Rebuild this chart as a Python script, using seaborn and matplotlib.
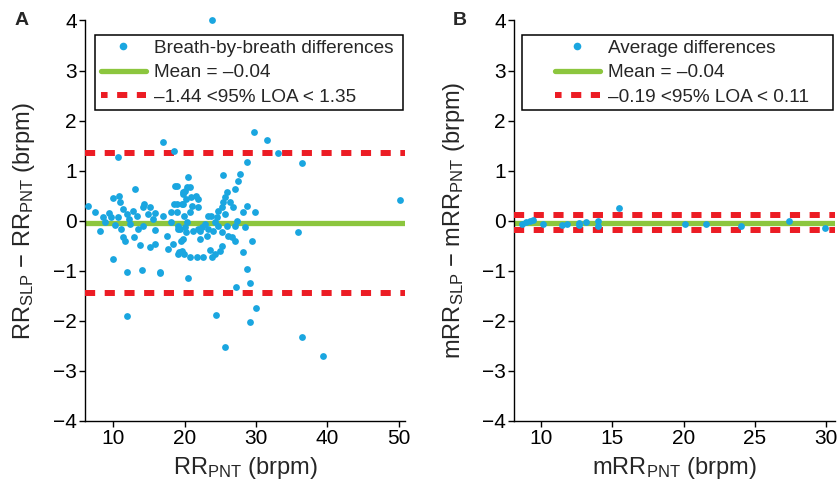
import matplotlib
matplotlib.use("Agg")
import matplotlib.pyplot as plt
import seaborn as sns
import pandas as pd
from matplotlib.patches import Rectangle
from matplotlib.lines import Line2D

# ---------------- data ----------------
rr_pnt = [23.9, 16.9, 18.5, 10.7, 29.7, 31.5, 33.1, 36.4, 50.2, 35.9,
          11.9, 10.0, 11.9, 14.0, 16.5, 20.5, 24.4, 25.6, 27.2, 29.2,
          28.8, 29.2, 30.0, 36.4, 39.4,
          6.45, 7.5, 8.1, 8.5, 8.9, 9.4, 9.7, 10.0, 10.2, 10.6,
          10.8, 11.0, 11.3, 11.1, 11.4, 11.7, 11.9, 12.2, 12.4, 12.7,
          12.9, 13.1, 13.3, 13.5, 13.7, 14.1, 14.3, 14.2, 14.8, 15.1,
          15.2, 15.6, 15.8, 15.8, 15.9, 16.5, 17.0, 17.5, 17.6, 18.1,
          18.1, 18.5, 18.6, 18.4, 19.0, 19.2, 19.5, 19.7, 19.8, 20.2,
          19.9, 20.4, 20.2, 19.9, 20.8,
          28.7, 27.8, 27.5, 27.0, 25.4, 25.9, 25.7, 25.4, 26.4, 26.8,
          25.2, 24.7, 25.6, 23.7, 23.3, 24.5, 24.3, 24.7, 26.0, 27.3,
          27.1, 28.4, 28.2, 29.9, 24.0, 25.2, 26.1, 26.6, 27.0, 29.4,
          25.2, 25.0, 24.3, 28.2, 23.1, 23.3, 22.9,
          20.5, 20.4, 20.1, 19.8, 18.9, 20.9, 21.6, 21.9, 21.9, 21.0,
          20.8, 19.8, 18.9, 18.9, 20.1, 19.4, 19.1, 21.2, 22.2, 21.9,
          22.4, 22.2, 19.8, 19.6, 19.1, 20.8, 21.7, 22.6, 23.8, 23.6,
          28.8]
rr_diff = [4.00, 1.58, 1.39, 1.27, 1.77, 1.61, 1.35, 1.15, 0.42, -0.23,
           -1.91, -0.76, -1.02, -0.99, -1.05, -1.15, -1.88, -2.53, -1.33, -1.25,
           -0.96, -2.03, -1.74, -2.33, -2.70,
           0.30, 0.18, -0.20, 0.07, -0.03, 0.15, 0.07, 0.45, -0.09, 0.07,
           0.50, 0.37, 0.23, -0.17, -0.33, -0.40, 0.13, 0.04, -0.07, 0.20,
           -0.33, 0.63, 0.10, -0.17, -0.49, 0.27, 0.33, -0.10, 0.13, 0.27,
           -0.53, 0.03, 0.16, -0.18, -0.47, -1.03, 0.10, -0.30, -0.57, -0.03,
           0.17, 0.33, 0.70, -0.47, -0.17, -0.63, -0.40, 0.33, 0.57, 0.43,
           0.10, -0.03, -0.23, -0.67, 0.67,
           1.17, 0.93, 0.80, 0.63, 0.91, 0.57, 0.47, 0.37, 0.37, 0.27,
           0.27, 0.20, 0.13, 0.10, 0.10, 0.07, -0.03, -0.10, -0.10, 0.00,
           -0.10, -0.13, 0.17, 0.17, -0.20, -0.23, -0.30, -0.33, -0.40, -0.40,
           -0.50, -0.60, -0.67, -0.63, -0.30, -0.17, -0.07,
           0.87, 0.67, 0.60, 0.53, 0.70, 0.47, 0.50, 0.43, 0.27, 0.30,
           0.17, 0.33, 0.17, 0.33, -0.13, -0.17, -0.10, -0.20, -0.20, -0.17,
           -0.13, -0.37, -0.37, -0.60, -0.67, -0.73, -0.73, -0.72, -0.72, -0.59,
           0.30]

mrr_pnt = [8.67, 8.97, 9.25, 9.48, 10.18, 11.47, 11.82, 12.70, 12.70, 13.17,
           14.03, 14.03, 15.50, 20.09, 21.56, 24.01, 27.36, 29.88]
mrr_diff = [-0.06, -0.03, -0.01, 0.01, -0.06, -0.08, -0.06, -0.04, -0.08, -0.03,
            -0.01, -0.11, 0.26, -0.06, -0.06, -0.11, -0.01, -0.15]

mean_a, loa_lo_a, loa_hi_a = -0.04, -1.44, 1.35
mean_b, loa_lo_b, loa_hi_b = -0.04, -0.19, 0.11

labels_a = ["Breath-by-breath differences"]
labels_b = ["Average differences"]
y_ticks = [-4, -3, -2, -1, 0, 1, 2, 3, 4]
x_ticks_a = [10, 20, 30, 40, 50]
x_ticks_b = [10, 15, 20, 25, 30]

# ---------------- style ----------------
BLUE = "#1aa6e0"
GREEN = "#8cc63e"
RED = "#ec1c24"
DASH = (0, (1.7, 1.6))

sns.set_style("ticks")
plt.rcParams["font.family"] = ["Liberation Sans", "DejaVu Sans"]
plt.rcParams["mathtext.default"] = "regular"
plt.rcParams["axes.unicode_minus"] = True


def en(v):
    return f"{v:.2f}".replace("-", "\u2013")


fig = plt.figure(figsize=(8.38, 4.88), dpi=100)
axA = fig.add_axes([0.1014, 0.138, 0.382, 0.820])
axB = fig.add_axes([0.6134, 0.138, 0.383, 0.820])

dfA = pd.DataFrame({"x": rr_pnt, "y": rr_diff})
dfB = pd.DataFrame({"x": mrr_pnt, "y": mrr_diff})

panels = [
    (axA, dfA, mean_a, loa_lo_a, loa_hi_a, labels_a[0], (6.03, 50.9), x_ticks_a,
     r"RR$_{PNT}$ (brpm)", r"RR$_{SLP}$ $-$ RR$_{PNT}$ (brpm)", "A", 0.050, -0.19, 0.026),
    (axB, dfB, mean_b, loa_lo_b, loa_hi_b, labels_b[0], (8.13, 30.6), x_ticks_b,
     r"mRR$_{PNT}$ (brpm)", r"mRR$_{SLP}$ $-$ mRR$_{PNT}$ (brpm)", "B", 0.128, -0.187, 0.549),
]

for (ax, df, mean, lo, hi, lab, xlim, xt, xlabel, ylabel, tag, leg_x, ylab_x, tag_x) in panels:
    sns.scatterplot(data=df, x="x", y="y", ax=ax, color=BLUE, s=24,
                    linewidth=0, zorder=4, clip_on=False)
    ax.axhline(mean, color=GREEN, lw=3.8, zorder=2)
    ax.axhline(lo, color=RED, lw=4.3, ls=DASH, zorder=3)
    ax.axhline(hi, color=RED, lw=4.3, ls=DASH, zorder=3)
    ax.set_xlim(*xlim)
    ax.set_ylim(-4, 4)
    ax.set_yticks(y_ticks)
    ax.set_xticks(xt)
    ax.set_xlabel("")
    ax.set_ylabel("")
    sns.despine(ax=ax)
    for s in ("left", "bottom"):
        ax.spines[s].set_color("black")
        ax.spines[s].set_linewidth(1.0)
    ax.tick_params(direction="out", length=4, width=1, colors="black",
                   labelsize=15, pad=2)
    ax.text(0.5, -0.118, xlabel, transform=ax.transAxes, ha="center",
            va="center", fontsize=17)
    ax.text(ylab_x, 0.5, ylabel, transform=ax.transAxes, ha="center",
            va="center", rotation=90, fontsize=17)
    fig.text(tag_x, 0.959, tag, ha="center", va="center", fontsize=14,
             fontweight="bold")

    handles = [
        Line2D([], [], marker="o", ls="", color=BLUE, markersize=5.5, mew=0),
        Line2D([], [], color=GREEN, lw=3.8),
        Line2D([], [], color=RED, lw=4.3, ls=(0.6, (1.7, 1.6))),
    ]
    texts = [lab, f"Mean = {en(mean)}", f"{en(lo)} <95% LOA < {en(hi)}"]
    ax.legend(handles, texts, loc="upper left", bbox_to_anchor=(leg_x, 0.953),
              frameon=False, fontsize=13.7, handlelength=2.35,
              handletextpad=0.42, labelspacing=0.38, borderpad=0,
              borderaxespad=0)
    x0 = 0.031 if tag == "A" else 0.025
    ax.add_patch(Rectangle((x0, 0.777), 0.994 - x0, 0.187,
                           transform=ax.transAxes, fill=True, fc="white",
                           ec="black", lw=1.1, zorder=5))
    ax.get_legend().set_zorder(6)

fig.savefig("out.png", dpi=100)
